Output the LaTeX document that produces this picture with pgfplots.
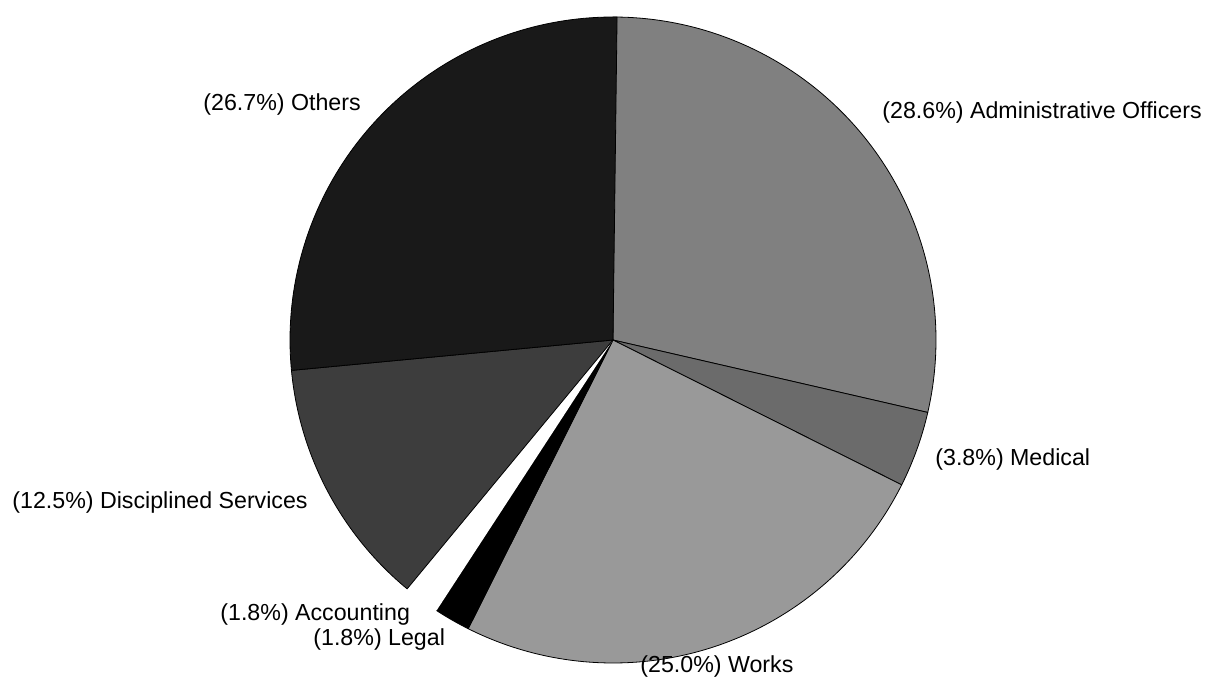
\documentclass[border=0pt]{standalone}
\usepackage{pgfplots}
\pgfplotsset{compat=1.18}
\usepackage{pgfplotstable}
\usepackage{fontspec}
\setmainfont{Liberation Sans}

% slices clockwise from 12 o'clock; lx,ly = label position (pixels, base west)
\pgfplotstableread[col sep=comma]{
name,pct,fillc,linec,lx,ly
Administrative Officers,28.6,black!50,black,882,118
Medical,3.8,black!58,black,935,465
Works,25.0,black!40,black,640,672
Legal,1.8,black,black,313,645
Accounting,1.8,white,none,220,620
Disciplined Services,12.5,black!76,black,12,508
Others,26.7,black!90,black,203,110
}\slices

\def\R{161.5pt}

\begin{document}
\begin{tikzpicture}
\begin{axis}[
  x=0.5pt, y=0.5pt,
  xmin=0, xmax=1215, ymin=0, ymax=680,
  y dir=reverse,
  hide axis, clip=false,
]
\path (axis cs:0,0) rectangle (axis cs:1215,680);
\pgfmathsetmacro\angstart{90}
\pgfplotsforeachungrouped \i in {0,...,6}{
  \pgfplotstablegetelem{\i}{pct}\of\slices \let\pct\pgfplotsretval
  \pgfplotstablegetelem{\i}{fillc}\of\slices \let\fc\pgfplotsretval
  \pgfplotstablegetelem{\i}{linec}\of\slices \let\lc\pgfplotsretval
  \pgfplotstablegetelem{\i}{name}\of\slices \let\nm\pgfplotsretval
  \pgfplotstablegetelem{\i}{lx}\of\slices \let\lx\pgfplotsretval
  \pgfplotstablegetelem{\i}{ly}\of\slices \let\ly\pgfplotsretval
  \pgfmathsetmacro\angend{\angstart-3.6*\pct}
  \edef\temp{%
    \noexpand\filldraw[fill=\fc, draw=\lc, line width=0.4pt, line join=round]
      (axis cs:613,340) -- ++(\angstart:\R)
      arc[start angle=\angstart, end angle=\angend, radius=\R] -- cycle;
    \noexpand\node[anchor=base west, inner sep=0pt,
      font=\noexpand\fontsize{11.6}{13}\noexpand\selectfont]
      at (axis cs:\lx,\ly) {(\pct\noexpand\%) \nm};
  }
  \temp
  \let\angstart\angend
}
\end{axis}
\end{tikzpicture}
\end{document}
